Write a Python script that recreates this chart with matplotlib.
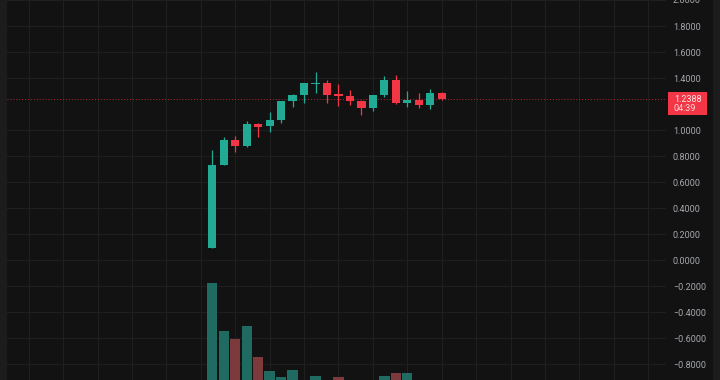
import matplotlib
matplotlib.use("Agg")
import matplotlib.pyplot as plt
from matplotlib.patches import Rectangle
import numpy as np

# ---- data ----
opens  = [0.095, 0.733, 0.923, 0.877, 1.046, 1.031, 1.077, 1.223, 1.272, 1.355, 1.364,
          1.277, 1.262, 1.226, 1.172, 1.267, 1.385, 1.205, 1.231, 1.192, 1.282]
highs  = [0.846, 0.949, 0.954, 1.072, 1.056, 1.141, 1.225, 1.280, 1.365, 1.446, 1.385,
          1.354, 1.308, 1.228, 1.269, 1.415, 1.421, 1.300, 1.282, 1.313, 1.290]
lows   = [0.090, 0.730, 0.833, 0.870, 0.944, 0.987, 1.056, 1.180, 1.210, 1.282, 1.205,
          1.185, 1.192, 1.113, 1.149, 1.251, 1.203, 1.174, 1.167, 1.159, 1.232]
closes = [0.733, 0.923, 0.877, 1.046, 1.026, 1.077, 1.223, 1.272, 1.359, 1.364, 1.272,
          1.264, 1.226, 1.172, 1.267, 1.385, 1.205, 1.231, 1.192, 1.282, 1.2388]
volumes = [103, 55, 47, 60, 29, 15, 9, 16, 4, 10, 3, 9, 4, 3, 5, 10, 13, 13, 4, 3, 2]
last_price = 1.2388
countdown = "04:39"
yticks = [2.0, 1.8, 1.6, 1.4, 1.0, 0.8, 0.6, 0.4, 0.2, 0.0, -0.2, -0.4, -0.6, -0.8]

UP = "#22ab94"
DOWN = "#f23645"
UP_VOL = "#1f6a61"
DOWN_VOL = "#7d3a3c"
BG = "#121212"
EDGE = "#1c1c1c"
GRID = "#1f1f1f"
TXT = "#a6a8ae"
FONT = ["Roboto", "DejaVu Sans"]

W, H = 720, 380
fig = plt.figure(figsize=(W / 100, H / 100), dpi=100, facecolor=EDGE)
fig.patches.append(Rectangle((7 / W, 0), (713 - 7) / W, 1, transform=fig.transFigure,
                             facecolor=BG, edgecolor="none", zorder=-5))

ax_left, ax_right = 7, 666
pos = [ax_left / W, 0, (ax_right - ax_left) / W, 1]

# grid / price-scale axes (bottom layer)
gax = fig.add_axes(pos, zorder=0)
# volume axes (middle layer)
vol = fig.add_axes(pos, sharex=gax, zorder=1)
# candle axes (top layer)
ax = fig.add_axes(pos, sharex=gax, sharey=gax, zorder=2)
for a in (gax, vol, ax):
    a.patch.set_visible(False)
    for s in a.spines.values():
        s.set_visible(False)

n = len(opens)
x = np.arange(n)
up = [c >= o for o, c in zip(opens, closes)]
colors = [UP if u else DOWN for u in up]
vcolors = [UP_VOL if u else DOWN_VOL for u in up]

# volume
vol.bar(x, volumes, width=0.9, color=vcolors, linewidth=0)
vol.set_ylim(6, 386)
vol.set_yticks([])
vol.tick_params(axis="both", length=0, labelbottom=False)

# candles
ax.vlines(x, lows, highs, colors=colors, linewidth=0.9, zorder=3)
bottoms = [min(o, c) for o, c in zip(opens, closes)]
heights = [max(abs(c - o), 0.008) for o, c in zip(opens, closes)]
ax.bar(x, heights, bottom=bottoms, width=0.72, color=colors, linewidth=0, zorder=4)
ax.tick_params(axis="both", length=0, labelbottom=False, labelleft=False)

# limits
spacing = 11.47
x0_px = 212.3
gax.set_xlim((ax_left - x0_px) / spacing, (ax_right - x0_px) / spacing)
gax.set_ylim(-0.923, 2.0)

# grid + price scale
gax.set_xticks(np.arange(-16, 40, 3))
gax.tick_params(axis="x", labelbottom=False)
gax.set_yticks(yticks)
gax.set_yticklabels([f"{v:.4f}".replace("-", "\u2212") for v in yticks])
gax.yaxis.tick_right()
gax.tick_params(axis="both", length=0)
gax.tick_params(axis="y", pad=5, labelsize=6.5, labelcolor=TXT)
for lab in gax.get_yticklabels():
    lab.set_fontfamily(FONT)
gax.grid(True, color=GRID, linewidth=0.8)

# last price line
ax.axhline(last_price, color=DOWN, linewidth=0.7, linestyle=(0, (1, 2)), alpha=0.7, zorder=2)

# price label box
fig.canvas.draw()
y_disp = ax.transData.transform((0, last_price))[1]
box_top = y_disp + 7
box_bot = y_disp - 16.5
fig.patches.append(Rectangle((668 / W, box_bot / H), (707 - 668) / W, (box_top - box_bot) / H,
                             transform=fig.transFigure, facecolor=DOWN, edgecolor="none", zorder=5))
fig.text(674 / W, (y_disp - 0.5) / H, f"{last_price:.4f}", color="#ffe6e8", fontsize=6.5,
         family=FONT, va="center", ha="left", zorder=6)
fig.text(674 / W, (y_disp - 10) / H, countdown, color="#ffd6da", fontsize=6.5,
         family=FONT, va="center", ha="left", zorder=6)

fig.savefig("out.png", dpi=100, facecolor=fig.get_facecolor())
